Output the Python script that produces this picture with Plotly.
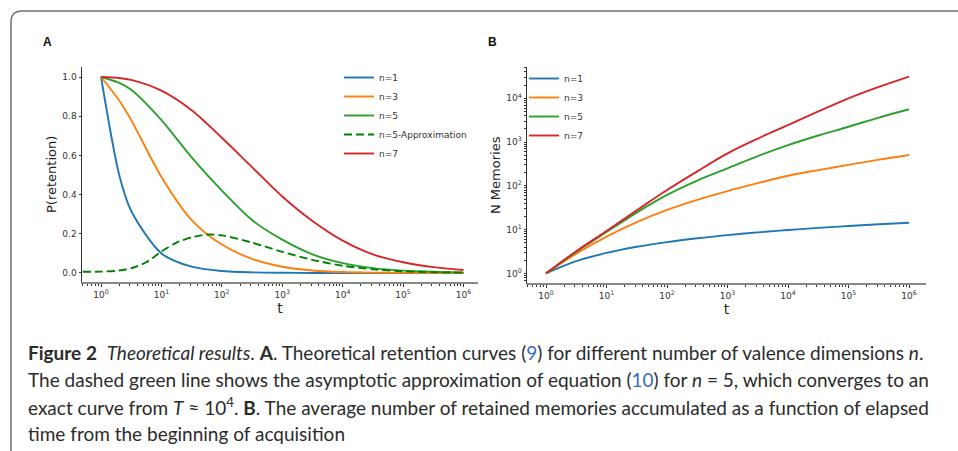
import plotly.graph_objects as go

W, H = 958, 451

# ---------------- data ----------------
T_A = [1, 2, 3.162, 10, 31.62, 100, 316.2, 1000, 3162, 1e4, 31623, 1e5, 316228, 1e6]
P_N1 = [1, .5, .316, .1, .032, .01, .0032, .001, .0003, .0001, 0, 0, 0, 0]
P_N3 = [1, .88, .78, .49, .27, .145, .072, .032, .013, .005, .002, .0008, .0003, .0001]
P_N5 = [1, .97, .935, .78, .59, .42, .27, .17, .095, .05, .025, .012, .006, .003]
P_N7 = [1, .995, .985, .93, .83, .69, .54, .39, .265, .165, .095, .055, .03, .015]

T_APPROX = [0.5, 1, 1.778, 3.162, 5.623, 10, 17.78, 31.62, 56.23, 100, 316.2, 1000, 3162,
            1e4, 31623, 1e5, 316228, 1e6]
P_N5_APPROX = [.006, .007, .011, .024, .055, .11, .155, .182, .196, .192, .155, .108, .067,
               .037, .019, .009, .004, .002]

T_B = [1, 3.16, 10, 31.6, 100, 316, 1000, 3162, 1e4, 31623, 1e5, 316228, 1e6]
N_N1 = [1, 1.9, 2.93, 4.05, 5.19, 6.33, 7.49, 8.64, 9.79, 10.94, 12.09, 13.24, 14.39]
N_N3 = [1, 2.8, 6.9, 14.8, 28.2, 47.9, 75.9, 115, 170, 229, 302, 398, 507]
N_N5 = [1, 3.1, 8.8, 24.5, 62, 132, 251, 479, 851, 1410, 2240, 3630, 5620]
N_N7 = [1, 3.2, 9.3, 27.5, 80, 214, 550, 1200, 2450, 5000, 10000, 18200, 31300]

SERIES_A = [("n=1", P_N1), ("n=3", P_N3), ("n=5", P_N5)]
SERIES_B = [("n=1", N_N1), ("n=3", N_N3), ("n=5", N_N5), ("n=7", N_N7)]

LOG_TICKS = [1, 10, 100, 1000, 1e4, 1e5, 1e6]
LOG_TICKTEXT = ["10<sup>%d</sup>" % i for i in range(7)]
Y_TICKS_A = [0, 0.2, 0.4, 0.6, 0.8, 1.0]
Y_TICKTEXT_A = ["0.0", "0.2", "0.4", "0.6", "0.8", "1.0"]
Y_TICKS_B = [1, 10, 100, 1000, 1e4]
Y_TICKTEXT_B = ["10<sup>%d</sup>" % i for i in range(5)]

# ---------------- styles ----------------
C = {"n=1": "#1f77b4", "n=3": "#ff7f0e", "n=5": "#2ca02c", "n=7": "#d62728"}
LW = 1.9
FONT = "DejaVu Sans"
TXT = "#333333"

def px_x(p):
    return p / W

def px_y(p):
    return 1 - p / H

fig = go.Figure()

for name, vals in SERIES_A:
    fig.add_trace(go.Scatter(x=T_A, y=vals, mode="lines", name=name,
                             line=dict(color=C[name], width=LW, shape="spline", smoothing=0.8),
                             xaxis="x", yaxis="y", legend="legend"))
fig.add_trace(go.Scatter(x=T_APPROX, y=P_N5_APPROX, mode="lines", name="n=5-Approximation",
                         line=dict(color="#008000", width=LW, dash="8px,4px", shape="spline", smoothing=0.8),
                         xaxis="x", yaxis="y", legend="legend"))
fig.add_trace(go.Scatter(x=T_A, y=P_N7, mode="lines", name="n=7",
                         line=dict(color=C["n=7"], width=LW, shape="spline", smoothing=0.8),
                         xaxis="x", yaxis="y", legend="legend"))

for name, vals in SERIES_B:
    fig.add_trace(go.Scatter(x=T_B, y=vals, mode="lines", name=name,
                             line=dict(color=C[name], width=LW, shape="spline"),
                             xaxis="x2", yaxis="y2", legend="legend2"))

tickfont = dict(family=FONT, size=9, color=TXT)
minor = dict(ticks="outside", ticklen=2, tickcolor="#333", tickwidth=1, dtick="D1", showgrid=False)

common_x = dict(type="log", showgrid=False, zeroline=False, showline=True,
                linecolor="#888888", linewidth=1.6, ticks="outside", ticklen=3.5,
                tickcolor="#333", tickwidth=1, tickvals=LOG_TICKS, ticktext=LOG_TICKTEXT,
                tickfont=tickfont, minor=minor,
                title=dict(text="t", font=dict(family=FONT, size=14, color="#222"), standoff=0))

fig.update_layout(
    width=W, height=H, margin=dict(l=0, r=0, t=0, b=0),
    paper_bgcolor="white", plot_bgcolor="white",
    showlegend=True,
    xaxis=dict(domain=[px_x(82), px_x(478)], range=[-0.315, 6.24], anchor="y", **common_x),
    yaxis=dict(domain=[px_y(282), px_y(67)], range=[-0.046, 1.051], anchor="x",
               showgrid=False, zeroline=False, showline=True, linecolor="#333", linewidth=1,
               ticks="outside", ticklen=2.5, tickcolor="#333", tickvals=Y_TICKS_A,
               ticktext=Y_TICKTEXT_A, tickfont=tickfont),
    xaxis2=dict(domain=[px_x(527), px_x(926)], range=[-0.314, 6.28], anchor="y2", **common_x),
    yaxis2=dict(domain=[px_y(283), px_y(67)], range=[-0.22, 4.715], anchor="x2", type="log",
                showgrid=False, zeroline=False, showline=True, linecolor="#333", linewidth=1,
                ticks="outside", ticklen=2.5, tickcolor="#333", tickvals=Y_TICKS_B,
                ticktext=Y_TICKTEXT_B, tickfont=tickfont, minor=minor),
    legend=dict(x=px_x(339), y=px_y(63), xanchor="left", yanchor="top",
                bgcolor="rgba(0,0,0,0)", font=dict(family=FONT, size=9, color=TXT),
                itemwidth=30, tracegroupgap=0),
    legend2=dict(x=px_x(524), y=px_y(64), xanchor="left", yanchor="top",
                 bgcolor="rgba(0,0,0,0)", font=dict(family=FONT, size=9, color=TXT),
                 itemwidth=30, tracegroupgap=0),
)

# y-axis titles
for title, xp in (("P(retention)", 52), ("N Memories", 496)):
    fig.add_annotation(text=title, x=px_x(xp), y=px_y(175), xref="paper", yref="paper",
                       xanchor="center", yanchor="middle", showarrow=False, textangle=-90,
                       font=dict(family=FONT, size=13, color="#222"))

# panel letters
for letter, xp in (("A", 47), ("B", 492)):
    fig.add_annotation(text="<b>%s</b>" % letter, x=px_x(xp), y=px_y(42), xref="paper", yref="paper",
                       xanchor="center", yanchor="middle", showarrow=False,
                       font=dict(family="Liberation Sans", size=12, color="#111"))

# caption
LINK = "#3b6cc4"
CAP = [
    "<b>Figure 2</b>  <i>Theoretical results</i>. <b>A</b>. Theoretical retention curves "
    "(<span style='color:%s'>9</span>) for different number of valence dimensions <i>n</i>." % LINK,
    "The dashed green line shows the asymptotic approximation of equation "
    "(<span style='color:%s'>10</span>) for <i>n</i> = 5, which converges to an" % LINK,
    "exact curve from <i>T</i> ≈ 10<sup>4</sup>. <b>B</b>. The average number of retained memories "
    "accumulated as a function of elapsed",
    "time from the beginning of acquisition",
]
CAP_Y = [352, 379, 406, 433]
for line, yp in zip(CAP, CAP_Y):
    fig.add_annotation(text=line, x=px_x(26), y=px_y(yp), xref="paper", yref="paper",
                       xanchor="left", yanchor="middle", showarrow=False, align="left",
                       font=dict(family="Lato", size=19, color="#2b2b2b"))

# card frame (top-left rounded corner)
fig.add_shape(type="path", xref="paper", yref="paper",
              path="M %f,%f L %f,%f Q %f,%f %f,%f L %f,%f" % (
                  px_x(11), px_y(451), px_x(11), px_y(22), px_x(11), px_y(11),
                  px_x(22), px_y(11), px_x(958), px_y(11)),
              line=dict(color="#707070", width=1.5))

fig.write_html("out.html")
